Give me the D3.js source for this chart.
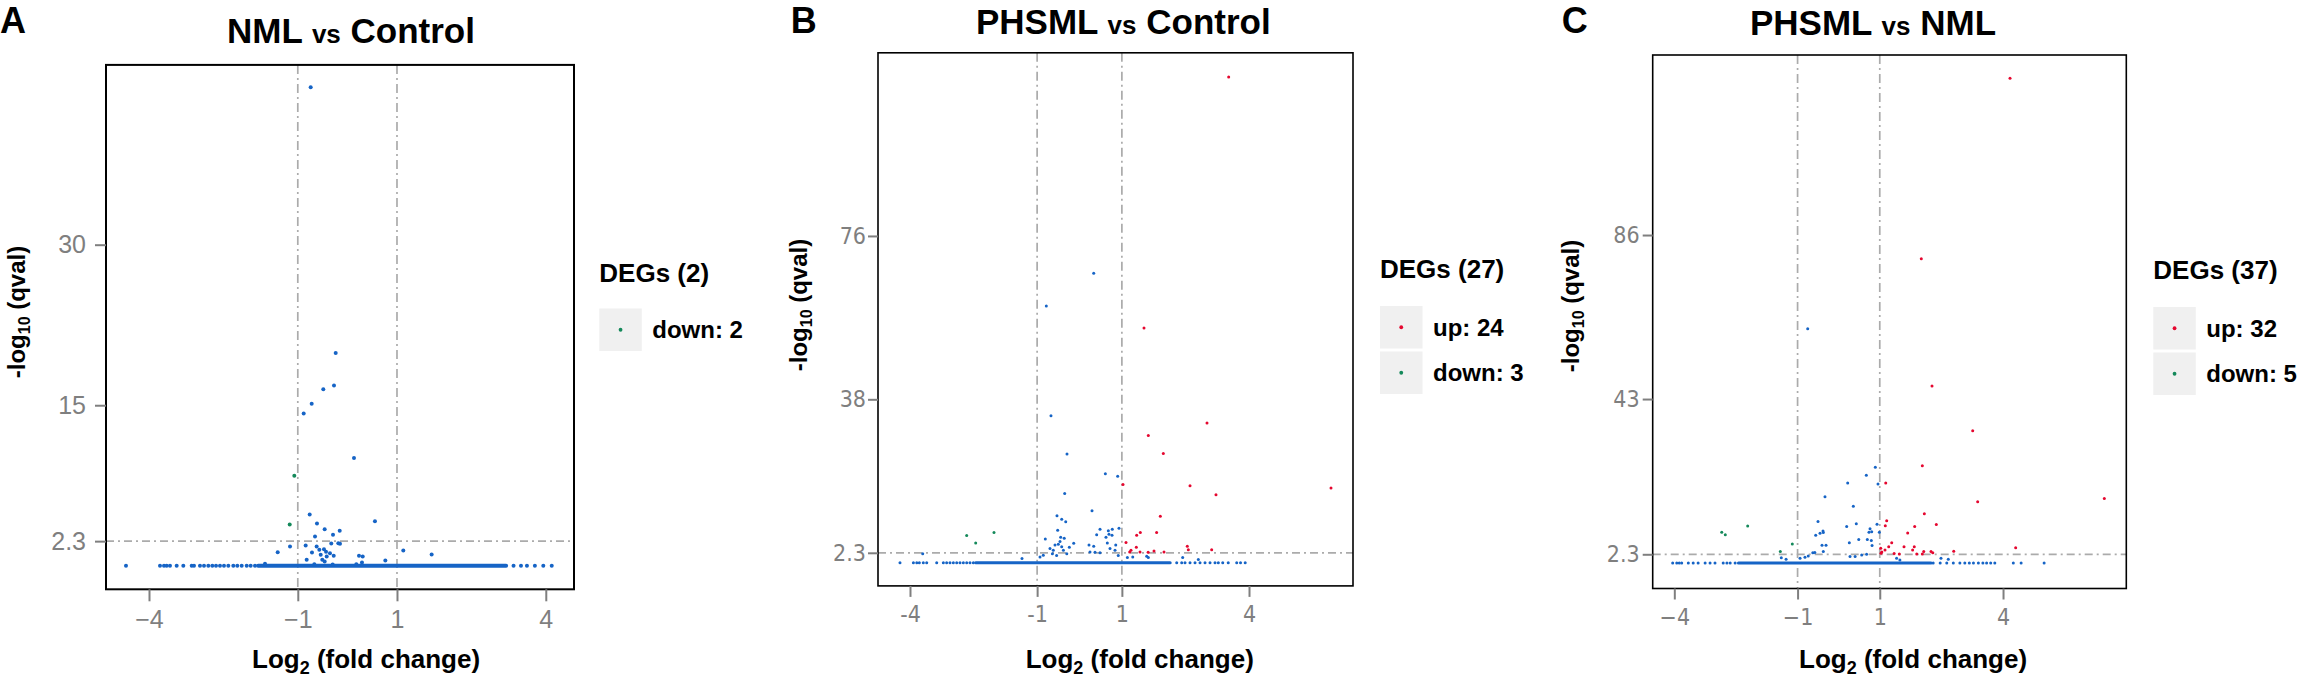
<!DOCTYPE html>
<html>
<head>
<meta charset="utf-8">
<script src="https://cdn.jsdelivr.net/npm/d3@7"></script>
<style>
  body { margin: 0; background: #fff; }
  text { font-family: "Liberation Sans", Arial, Helvetica, sans-serif; }
</style>
</head>
<body>
<svg id="chart" width="2307" height="679"></svg>
<script>
// ---- values ----
const panelLetters = ["A", "B", "C"];
const titleLeft = ["NML", "PHSML", "PHSML"];
const titleRight = ["Control", "Control", "NML"];
const degTotals = [2, 27, 37];
const upCounts = [0, 24, 32];
const downCounts = [2, 3, 5];

const xTickValues = [-4, -1, 1, 4];
const xTickLabelsA = ["\u22124", "\u22121", "1", "4"];
const xTickLabelsB = ["-4", "-1", "1", "4"];
const xTickLabelsC = ["\u22124", "\u22121", "1", "4"];
const yTicksA = [2.3, 15, 30];
const yTicksB = [2.3, 38, 76];
const yTicksC = [2.3, 43, 86];
const foldCuts = [-1, 1];
const qCut = 2.3;

// points: [log2 fold change, -log10 qval]
const upA = [];
const downA = [[-1.07, 8.40], [-1.163, 3.85]];
const nsA = [
  [-0.740, 44.7], [-0.236, 19.87], [-0.270, 16.84], [-0.486, 16.5], [-0.720, 15.13],
  [-0.881, 14.23], [0.133, 10.08], [-0.760, 4.79], [0.556, 4.17], [-0.613, 3.94],
  [-0.458, 3.42], [-0.155, 3.26], [-0.290, 2.89], [-0.653, 2.73], [-0.183, 2.11],
  [-0.149, 2.05], [-0.325, 2.08], [-0.841, 1.89], [-1.157, 1.80], [-1.405, 1.27],
  [-0.714, 1.23], [-0.620, 1.80], [-0.566, 1.49], [-0.472, 1.55], [-0.431, 1.30],
  [-0.351, 1.18], [-0.276, 0.93], [-0.538, 1.02], [-0.417, 0.86], [-0.821, 0.55],
  [-0.506, 0.55], [-0.458, 0.39], [0.234, 0.93], [0.309, 0.86], [0.765, 0.50],
  [0.294, 0.30], [1.127, 1.42], [1.699, 1.05], [-1.661, 0.18], [-0.667, 0.15],
  [-0.296, 0.12], [0.180, 0.15]
];
// genes sitting on the floor (qval ~ 1): sparse ones, plus the solid run
const floorA = [-4.464, -3.778, -3.698, -3.643, -3.577, -3.442, -3.308, -3.139, -3.093,
  -2.972, -2.891, -2.804, -2.724, -2.649, -2.569, -2.488, -2.401, -2.30, -2.22, -2.131,
  -2.03, -1.95, -1.863, 3.35, 3.5, 3.62, 3.78, 3.95, 4.12];
const floorRunA = [-1.80, 3.2];

const upB = [
  [3.52, 113.0], [1.522, 54.6], [3.009, 32.5], [1.624, 29.6], [1.978, 25.4],
  [1.027, 18.2], [2.608, 17.9], [5.935, 17.4], [3.221, 15.8], [1.907, 10.8],
  [1.82, 7.05], [1.435, 7.05], [1.349, 6.4], [1.097, 4.7], [2.544, 3.8],
  [2.568, 3.0], [1.341, 3.6], [3.119, 3.0], [1.185, 2.5], [1.428, 2.5],
  [1.758, 2.74], [1.994, 2.5], [1.62, 2.4], [1.215, 2.9]
];
const downB = [[-2.662, 6.3], [-2.450, 4.6], [-2.018, 7.05]];
const nsB = [
  [0.335, 67.3], [-0.783, 59.7], [-0.673, 34.2], [-0.295, 25.3], [0.610, 20.7],
  [0.901, 20.1], [-0.349, 16.1], [0.295, 12.1], [-0.531, 10.9], [-0.42, 10.1],
  [-0.325, 9.5], [-0.515, 7.56], [0.484, 7.8], [0.405, 6.5], [0.680, 7.4],
  [0.774, 7.8], [0.932, 8.0], [-0.807, 5.5], [-3.70, 2.1], [-0.444, 5.9],
  [-0.36, 5.7], [-0.24, 3.6], [-0.137, 4.5], [-0.696, 3.3], [-0.618, 2.9],
  [-0.578, 4.1], [-0.50, 4.3], [-0.46, 4.9], [-0.42, 3.7], [-0.38, 2.9],
  [-0.30, 2.1], [-0.64, 2.1], [-0.54, 1.7], [0.224, 4.1], [0.335, 3.8],
  [0.625, 5.9], [0.696, 6.6], [0.657, 4.6], [0.767, 6.4], [0.855, 4.1],
  [0.248, 2.5], [0.366, 2.4], [0.484, 2.3], [0.72, 3.3], [0.838, 2.9],
  [0.915, 1.7], [-1.357, 1.0], [-0.932, 1.35], [-0.854, 1.74], [1.13, 1.2],
  [1.257, 1.35], [1.586, 1.5], [1.624, 1.2], [2.435, 1.2], [2.804, 0.74]
];
const floorB = [-4.236, -3.92, -3.84, -3.78, -3.686, -3.606, -3.37, -3.213, -3.135,
  -3.056, -2.977, -2.898, -2.82, -2.741, -2.662, -2.584, -2.505, 2.294, 2.412, 2.49,
  2.608, 2.726, 2.844, 2.962, 3.08, 3.198, 3.276, 3.38, 3.51, 3.71, 3.80, 3.91];
const floorRunB = [-2.45, 2.14];

const upC = [
  [4.17, 127.1], [2.011, 79.8], [2.272, 46.4], [3.262, 34.7], [2.036, 25.5],
  [1.145, 21.0], [6.465, 16.9], [3.383, 16.1], [2.085, 12.9], [2.377, 10.1],
  [4.308, 4.0], [2.8, 3.1], [1.169, 11.1], [1.135, 9.8], [1.85, 9.6],
  [1.68, 7.9], [1.218, 4.3], [1.291, 5.3], [1.023, 3.9], [1.128, 3.4],
  [1.03, 2.6], [1.59, 4.3], [1.84, 4.3], [1.80, 3.4], [2.07, 3.0],
  [2.247, 3.0], [2.29, 2.7], [1.9, 2.4], [2.036, 2.35], [1.476, 2.4],
  [1.05, 2.9], [1.35, 2.5]
];
const downC = [[-2.846, 8.1], [-2.759, 7.4], [-2.214, 9.7], [-1.128, 5.0], [-1.42, 3.0]];
const nsC = [
  [-0.754, 61.4], [0.892, 25.1], [0.673, 23.0], [0.220, 21.0], [0.957, 20.7],
  [-0.333, 17.4], [0.357, 14.9], [-0.503, 10.9], [0.429, 10.3], [0.195, 9.6],
  [0.933, 10.2], [0.763, 9.0], [0.804, 8.2], [0.738, 8.1], [0.99, 8.1],
  [-0.559, 7.3], [-0.454, 7.8], [-0.381, 8.4], [-0.374, 8.0], [0.259, 5.3],
  [0.488, 6.2], [0.697, 6.2], [0.795, 5.9], [0.812, 4.6], [-0.405, 4.7],
  [-0.308, 4.7], [-0.374, 3.0], [-1.396, 1.4], [-1.28, 1.0], [-0.94, 1.25],
  [-0.82, 1.5], [-0.74, 1.85], [-0.63, 2.7], [-0.58, 2.8], [0.56, 2.1],
  [0.68, 2.3], [0.40, 1.7], [0.276, 1.7], [1.41, 1.25], [1.49, 0.8],
  [2.49, 1.25], [2.668, 1.0]
];
const floorC = [-4.04, -3.94, -3.88, -3.82, -3.66, -3.54, -3.42, -3.25, -3.13, -3.01,
  -2.81, -2.72, -2.64, -2.52, 2.30, 2.47, 2.63, 2.79, 2.95, 3.07, 3.18, 3.28, 3.40,
  3.51, 3.60, 3.70, 3.80, 4.25, 4.44, 5.0];
const floorRunC = [-2.44, 2.25];

// ---- look ----
const BLUE = "#1664c6", RED = "#e5072f", GREEN = "#14895a", GREY = "#7f7f7f";
const narrow = "'Liberation Sans Narrow', 'Arial Narrow', 'DejaVu Sans Condensed', sans-serif";
const regular = "'Liberation Sans', Arial, Helvetica, sans-serif";

const panels = [
  { left: 106, right: 574, top: 64.9, bottom: 589.3, xDomain: [-4.867, 4.569], yDomain: [-2.2, 46.8],
    xLabels: xTickLabelsA, yTicks: yTicksA, up: upA, down: downA, ns: nsA, floor: floorA, run: floorRunA,
    r: 2, frame: 2, tickFont: regular, tickPx: 25, yLen: 11, yPad: 9, xLen: 12, xPad: 9,
    letterX: 0, titleX: 227, titleY: 43, yLabX: 18, yLabY: 312, xLabX: 252,
    legX: 599.3, legTitleY: 282, keyY: 308.5 },
  { left: 878, right: 1353, top: 52.8, bottom: 585.9, xDomain: [-4.755, 6.454], yDomain: [-5.4, 118.6],
    xLabels: xTickLabelsB, yTicks: yTicksB, up: upB, down: downB, ns: nsB, floor: floorB, run: floorRunB,
    r: 1.5, frame: 1.6, tickFont: narrow, tickPx: 23, yLen: 10, yPad: 2, xLen: 11, xPad: 9,
    letterX: 790.7, titleX: 976, titleY: 33.7, yLabX: 800, yLabY: 305, xLabX: 1025.7,
    legX: 1380, legTitleY: 278, keyY: 306 },
  { left: 1652.7, right: 2126.3, top: 55, bottom: 588.5, xDomain: [-4.526, 7.0], yDomain: [-6.67, 133.2],
    xLabels: xTickLabelsC, yTicks: yTicksC, up: upC, down: downC, ns: nsC, floor: floorC, run: floorRunC,
    r: 1.5, frame: 1.6, tickFont: narrow, tickPx: 23, yLen: 10, yPad: 3, xLen: 11, xPad: 9,
    letterX: 1561.7, titleX: 1750, titleY: 34.6, yLabX: 1572, yLabY: 306, xLabX: 1799,
    legX: 2153.3, legTitleY: 279, keyY: 307 }
];

const svg = d3.select("#chart");

panels.forEach((p, i) => {
  const g = svg.append("g");
  const x = d3.scaleLinear().domain(p.xDomain).range([p.left, p.right]);
  const y = d3.scaleLinear().domain(p.yDomain).range([p.bottom, p.top]);

  // threshold lines
  g.selectAll(".vcut").data(foldCuts).enter().append("line")
    .attr("x1", d => x(d)).attr("x2", d => x(d))
    .attr("y1", p.top).attr("y2", p.bottom)
    .attr("stroke", "#ababab").attr("stroke-width", 1.7)
    .attr("stroke-dasharray", "9 4 2 4");
  g.append("line")
    .attr("x1", p.left).attr("x2", p.right)
    .attr("y1", y(qCut)).attr("y2", y(qCut))
    .attr("stroke", "#ababab").attr("stroke-width", 1.7)
    .attr("stroke-dasharray", "8 4 2 4");

  // the solid floor of non-significant genes
  g.append("line")
    .attr("x1", x(p.run[0])).attr("x2", x(p.run[1]))
    .attr("y1", y(0)).attr("y2", y(0))
    .attr("stroke", BLUE).attr("stroke-width", p.r * 2)
    .attr("stroke-linecap", "round");
  g.selectAll(".floor").data(p.floor).enter().append("circle")
    .attr("cx", d => x(d)).attr("cy", y(0)).attr("r", p.r).attr("fill", BLUE);

  const dots = (data, color) => g.append("g").selectAll("circle").data(data).enter().append("circle")
    .attr("cx", d => x(d[0])).attr("cy", d => y(d[1])).attr("r", p.r).attr("fill", color);
  dots(p.ns, BLUE);
  dots(p.up, RED);
  dots(p.down, GREEN);

  // frame
  g.append("rect")
    .attr("x", p.left).attr("y", p.top)
    .attr("width", p.right - p.left).attr("height", p.bottom - p.top)
    .attr("fill", "none").attr("stroke", "#000").attr("stroke-width", p.frame);

  // axes
  const styleAxis = a => {
    a.select(".domain").remove();
    a.selectAll("line").attr("stroke", GREY).attr("stroke-width", 2);
    a.selectAll("text").attr("fill", GREY)
      .style("font-family", p.tickFont).style("font-size", p.tickPx + "px");
  };
  g.append("g").attr("transform", `translate(${p.left},0)`)
    .call(d3.axisLeft(y).tickValues(p.yTicks).tickFormat(d => String(d))
      .tickSize(p.yLen).tickPadding(p.yPad))
    .call(styleAxis);
  g.append("g").attr("transform", `translate(0,${p.bottom})`)
    .call(d3.axisBottom(x).tickValues(xTickValues).tickFormat((d, k) => p.xLabels[k])
      .tickSize(p.xLen).tickPadding(p.xPad))
    .call(styleAxis);

  // panel letter and title
  g.append("text").attr("x", p.letterX).attr("y", 33)
    .attr("font-size", 36).attr("font-weight", "bold").text(panelLetters[i]);
  const t = g.append("text").attr("x", p.titleX).attr("y", p.titleY)
    .attr("font-weight", "bold").attr("font-size", 35);
  t.append("tspan").text(titleLeft[i] + " ");
  t.append("tspan").attr("font-size", 26).text("vs");
  t.append("tspan").text(" " + titleRight[i]);

  // axis titles
  const yl = g.append("text")
    .attr("transform", `translate(${p.yLabX},${p.yLabY}) rotate(-90)`)
    .attr("text-anchor", "middle").attr("dy", "0.3em")
    .attr("font-weight", "bold").attr("font-size", 24);
  yl.append("tspan").text("-log");
  yl.append("tspan").attr("font-size", 16).attr("dy", 5).text("10");
  yl.append("tspan").attr("dy", -5).text(" (qval)");

  const xl = g.append("text").attr("x", p.xLabX).attr("y", 668)
    .attr("font-weight", "bold").attr("font-size", 26);
  xl.append("tspan").text("Log");
  xl.append("tspan").attr("font-size", 18).attr("dy", 6).text("2");
  xl.append("tspan").attr("dy", -6).text(" (fold change)");

  // legend
  g.append("text").attr("x", p.legX).attr("y", p.legTitleY)
    .attr("font-weight", "bold").attr("font-size", 26)
    .text(`DEGs (${degTotals[i]})`);
  const items = [];
  if (upCounts[i] > 0) items.push({ label: `up: ${upCounts[i]}`, color: RED });
  items.push({ label: `down: ${downCounts[i]}`, color: GREEN });
  const key = g.selectAll(".key").data(items).enter().append("g")
    .attr("transform", (d, k) => `translate(${p.legX},${p.keyY + k * 45.5})`);
  key.append("rect").attr("width", 42.5).attr("height", 42.5).attr("fill", "#f0f0f0");
  key.append("circle").attr("cx", 21.25).attr("cy", 21.25).attr("r", 1.9).attr("fill", d => d.color);
  key.append("text").attr("x", 53).attr("y", 29.5)
    .attr("font-weight", "bold").attr("font-size", 24).text(d => d.label);
});
</script>
</body>
</html>
